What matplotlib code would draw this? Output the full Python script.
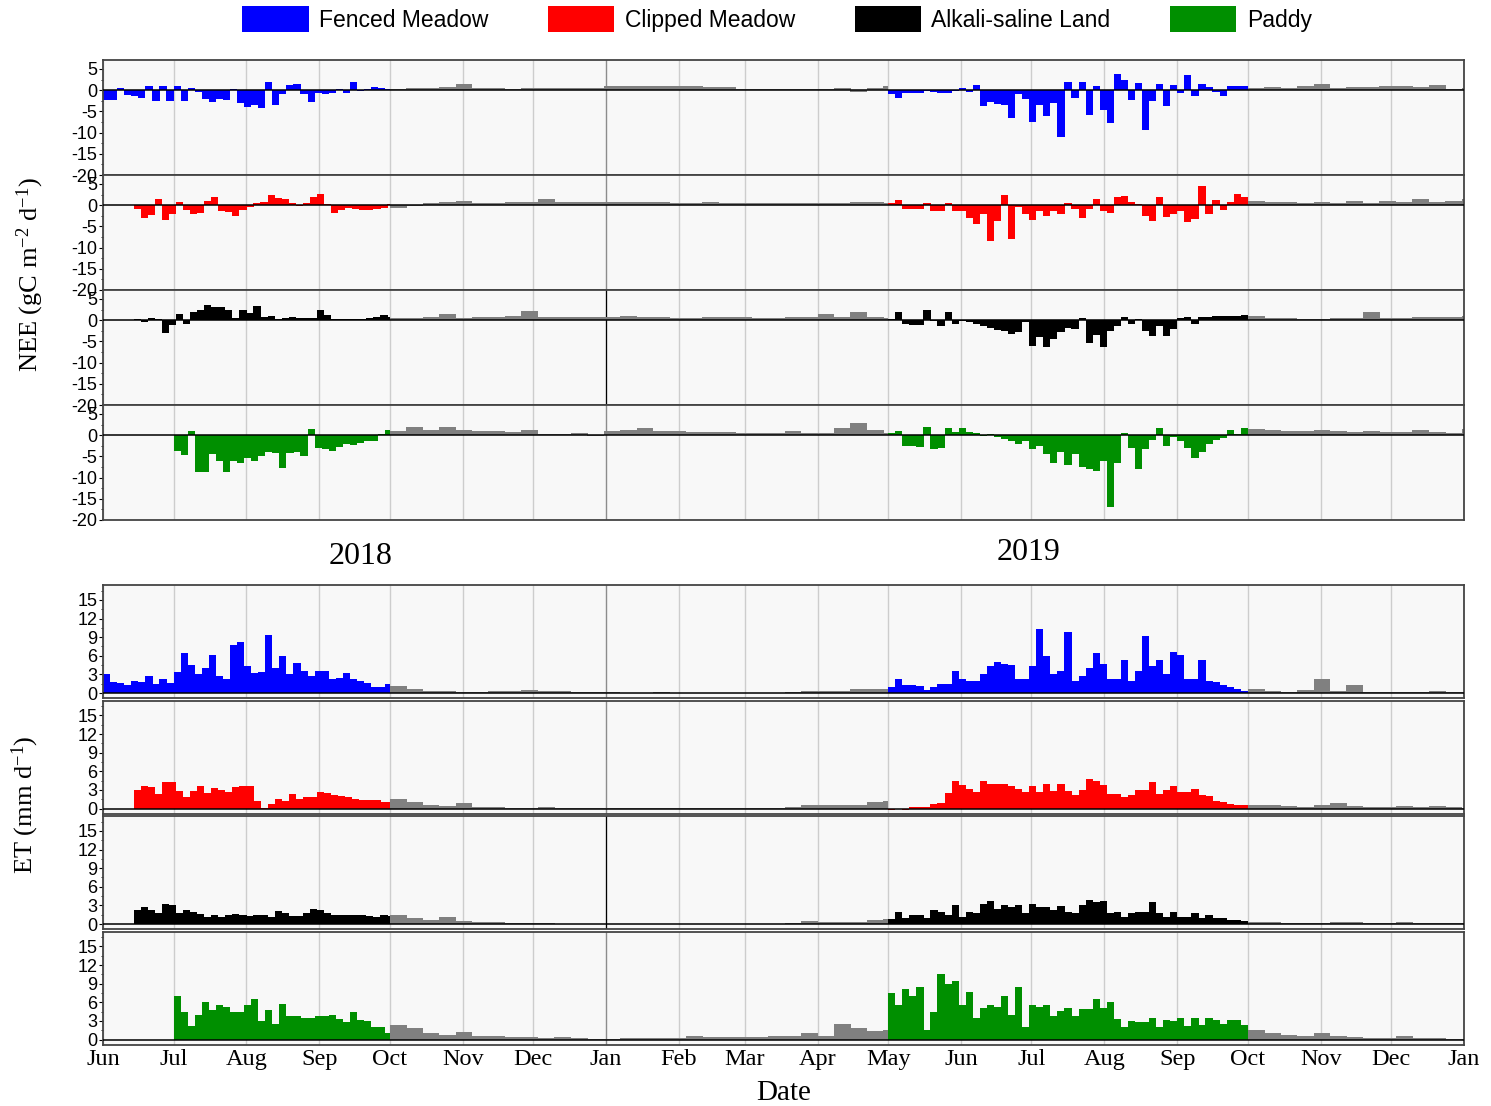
import numpy as np
import matplotlib
matplotlib.use("Agg")
import matplotlib.pyplot as plt
import matplotlib.dates as mdates
from matplotlib.patches import Patch

SERIF = "Liberation Serif"
SANS = "Liberation Sans"
plt.rcParams["mathtext.fontset"] = "custom"
plt.rcParams["mathtext.rm"] = SERIF
plt.rcParams["mathtext.it"] = SERIF + ":italic"
plt.rcParams["axes.unicode_minus"] = False

sites = ["Fenced Meadow", "Clipped Meadow", "Alkali-saline Land", "Paddy"]
colors = ["#0000ff", "#ff0000", "#000000", "#008f00"]
gap_color = "#808080"

# growing-season start in 2018 for each site
start_2018 = ["2018-06-01", "2018-06-14", "2018-06-14", "2018-07-01"]
end_2018 = "2018-10-01"
start_2019 = "2019-05-01"
end_2019 = "2019-10-01"
axis_end = "2020-01-01"

# measured periods are stored as 3-day values, gap-filled periods as weekly values
STEP_SEASON = 3
STEP_GAP = 7

# ---- NEE (gC m-2 d-1) ----
nee_fenced_2018 = [-2.4, -2.3, 0.5, -1.2, -1.4, -1.8, 1.0, -2.6, 1.0, -2.6, 1.0, -2.6, 0.6, -0.5,
                   -2.0, -2.9, -2.0, -2.3, 0.3, -3.0, -4.0, -3.4, -4.2, 2.0, -3.6, -1.0, 1.2, 1.5,
                   -1.0, -2.8, -0.6, -1.0, -0.6, 0.3, -0.7, 1.8, -0.2, 0.3, 0.7, 0.5, 0.3]
nee_fenced_gap1 = [0.3, 0.4, 0.5, 0.8, 1.4, 0.5, 0.4, 0.3, 0.4, 0.6, 0.4, 0.4, 0.5, 0.9, 0.9, 1.0,
                   0.9, 0.9, 0.9, 0.8, 0.8, 0.2, 0.2, 0.3, 0.2, 0.3, 0.3, 0.5, -0.4, 0.4, 1.0]
nee_fenced_2019 = [-1.0, -1.8, -0.6, -0.6, -0.6, -0.2, -0.5, -0.7, -0.7, -0.3, 0.5, -0.5, 1.2,
                   -3.8, -2.9, -3.2, -3.5, -6.6, -1.0, -2.2, -7.4, -3.4, -6.2, -3.0, -11.1, 2.0,
                   -1.8, 2.0, -5.8, 1.0, -4.6, -7.8, 3.7, 2.5, -2.3, 1.6, -9.5, -2.6, 1.5, -3.8,
                   1.1, -0.6, 3.5, -1.3, 1.5, 0.8, -0.4, -1.5, 0.9, 1.0, 0.9]
nee_fenced_gap2 = [0.6, 0.8, 0.5, 0.9, 1.5, 0.6, 0.8, 0.7, 0.9, 1.0, 0.8, 1.3, 0.2, 0.5]

nee_clipped_2018 = [-0.8, -3.0, -2.3, 1.5, -3.5, -2.2, 0.8, -1.2, -2.0, -1.8, 1.0, 2.0, -1.3,
                    -1.7, -2.5, -1.2, -0.5, 0.5, 0.7, 2.3, 1.6, 1.4, 0.5, -0.2, 0.5, 2.0, 2.6,
                    0.2, -1.8, -1.2, -0.7, -0.9, -1.2, -1.2, -1.0, -0.6, 0.2]
nee_clipped_gap1 = [-0.7, -0.3, 0.4, 0.8, 1.0, 0.6, 0.6, 0.7, 0.8, 1.4, 0.8, 0.8, 0.7, 0.8, 0.8,
                    0.8, 0.7, 0.6, 0.6, 0.7, 0.6, 0.5, 0.5, 0.5, 0.4, 0.5, 0.6, 0.6, 0.7, 0.8, 0.6]
nee_clipped_2019 = [0.5, 1.2, -0.8, -0.8, -0.8, 0.6, -1.3, -1.3, 0.4, -1.5, -1.4, -3.0, -4.5,
                    -2.0, -8.4, -3.8, 2.5, -8.0, -0.5, -2.2, -3.5, -1.5, -2.5, -1.3, -2.0, 0.5,
                    -1.0, -3.0, -1.0, 1.5, -1.5, -1.8, 2.0, 2.2, 0.8, 0.3, -2.5, -3.7, 2.0, -2.8,
                    -2.0, -1.5, -4.0, -3.2, 4.5, -2.2, 1.3, -1.2, 0.8, 2.7, 1.8]
nee_clipped_gap2 = [1.0, 0.8, 0.7, 0.6, 0.8, 0.6, 0.9, 0.6, 1.0, 0.7, 1.5, 0.8, 0.9, 1.4]

nee_alkali_2018 = [0.3, -0.4, 0.5, 0.3, -3.0, -1.2, 1.5, -1.0, 2.0, 2.5, 3.5, 3.0, 3.2, 2.5,
                   0.6, 2.5, 1.6, 3.3, 0.8, 1.0, 0.3, 0.6, 0.8, 0.5, 0.5, 0.4, 2.5, 1.2, 0.3,
                   0.3, 0.3, 0.3, 0.3, 0.5, 0.7, 1.3, 0.8]
nee_alkali_gap1 = [0.5, 0.6, 0.8, 1.5, 0.5, 0.7, 0.8, 0.9, 2.2, 0.8, 0.7, 0.7, 0.8, 0.8, 0.9,
                   0.8, 0.7, 0.6, 0.6, 0.7, 0.7, 0.7, 0.6, 0.6, 0.7, 0.8, 1.4, 0.7, 2.0, 0.8, 0.6]
nee_alkali_2019 = [0.3, 1.8, -1.0, -1.2, -1.2, 2.3, -0.3, -1.5, 1.8, -0.8, -0.3, -0.5, -0.9,
                   -1.3, -1.8, -2.3, -2.5, -3.3, -2.8, -0.5, -6.0, -4.0, -6.3, -4.5, -2.8, -1.8,
                   -2.2, 0.5, -5.5, -3.5, -6.3, -2.5, -1.5, 0.7, -1.0, 0.3, -2.5, -3.8, -1.5,
                   -3.8, -2.2, 0.6, 0.8, -1.0, 0.7, 0.8, 1.0, 0.9, 0.9, 1.0, 1.2]
nee_alkali_gap2 = [0.9, 0.6, 0.4, 0.2, 0.2, 0.4, 0.5, 2.0, 0.5, 0.6, 0.7, 0.8, 0.8, 1.0]

nee_paddy_2018 = [-3.8, -4.6, 1.0, -8.8, -8.8, -4.5, -6.0, -8.6, -6.0, -6.5, -5.5, -6.2, -5.0,
                  -4.0, -4.3, -7.8, -4.2, -4.0, -5.0, 1.5, -3.0, -3.3, -3.8, -2.8, -2.0, -2.3,
                  -1.8, -1.5, -1.3, 0.3, 1.3]
nee_paddy_gap1 = [1.0, 2.0, 1.2, 1.8, 1.2, 1.0, 0.9, 0.8, 1.3, 0.3, 0.2, 0.4, -0.2, 1.0, 1.3,
                  1.6, 1.0, 0.9, 0.8, 0.7, 0.8, 0.6, 0.6, 0.5, 1.0, 0.4, 0.6, 1.6, 2.8, 1.2, 0.6]
nee_paddy_2019 = [0.5, 1.0, -2.5, -2.5, -2.7, 2.0, -3.2, -3.0, 1.6, 0.8, 1.6, 0.8, 0.4, -0.3,
                  0.3, -0.5, -1.0, -1.5, -2.0, -1.5, -3.3, -2.5, -4.5, -6.5, -4.0, -7.0, -4.5,
                  -7.5, -8.0, -8.5, -6.0, -16.9, -6.5, 0.5, -3.0, -8.0, -3.3, -1.2, 1.7, -2.5,
                  -0.5, -1.5, -3.0, -5.5, -4.0, -2.0, -1.2, -0.6, 1.2, 0.3, 1.7]
nee_paddy_gap2 = [1.5, 1.2, 1.0, 1.0, 1.2, 0.9, 0.8, 0.9, 0.8, 0.7, 1.2, 0.8, 0.5, 1.5]

# ---- ET (mm d-1) ----
et_fenced_2018 = [3.0, 1.8, 1.6, 1.3, 2.0, 1.7, 2.8, 1.5, 2.3, 1.6, 3.4, 6.4, 4.5, 3.0, 4.0,
                  6.2, 2.8, 2.2, 7.8, 8.2, 4.3, 3.3, 3.4, 9.4, 4.0, 6.0, 3.0, 4.8, 3.5, 2.7, 3.6,
                  3.6, 2.2, 2.5, 3.2, 2.2, 1.9, 1.6, 1.0, 0.9, 1.4]
et_fenced_gap1 = [1.2, 0.7, 0.4, 0.3, 0.2, 0.2, 0.3, 0.3, 0.5, 0.3, 0.3, 0.2, 0.2, 0.1, 0.05,
                  0.05, 0.1, 0.05, 0.05, 0.05, 0.05, 0.05, 0.05, 0.05, 0.1, 0.4, 0.4, 0.4, 0.6,
                  0.7, 0.6]
et_fenced_2019 = [0.9, 2.2, 1.3, 1.3, 1.2, 0.5, 0.9, 1.5, 1.4, 3.6, 2.2, 1.9, 2.0, 3.1, 4.3, 5.0,
                  4.7, 4.5, 2.3, 2.3, 4.3, 10.3, 6.0, 3.0, 3.5, 9.8, 2.0, 2.8, 4.0, 6.5, 4.6, 2.3,
                  2.3, 5.3, 2.0, 3.6, 9.2, 4.4, 5.3, 3.1, 6.6, 6.2, 2.2, 2.2, 5.3, 2.0, 1.7, 1.3,
                  0.9, 0.6, 0.4]
et_fenced_gap2 = [0.6, 0.3, 0.2, 0.5, 2.3, 0.3, 1.3, 0.2, 0.1, 0.2, 0.2, 0.3, 0.1, 0.2]

et_clipped_2018 = [3.0, 3.7, 3.4, 2.4, 4.2, 4.2, 2.8, 1.8, 2.8, 3.7, 2.5, 3.3, 3.0, 2.7, 3.4,
                   3.7, 3.6, 1.2, 0.1, 0.8, 1.5, 1.2, 2.4, 1.6, 1.8, 1.8, 2.6, 2.5, 2.2, 2.0,
                   1.9, 1.6, 1.3, 1.3, 1.4, 1.1, 1.0]
et_clipped_gap1 = [1.6, 1.0, 0.6, 0.4, 0.9, 0.3, 0.2, 0.1, 0.1, 0.2, 0.05, 0.05, 0.05, 0.05,
                   0.05, 0.05, 0.05, 0.05, 0.05, 0.05, 0.05, 0.05, 0.05, 0.1, 0.2, 0.6, 0.5,
                   0.5, 0.6, 1.1, 1.2]
et_clipped_2019 = [-0.3, -0.1, -0.2, 0.3, 0.3, 0.3, 0.7, 0.9, 2.5, 4.4, 3.8, 3.2, 2.7, 4.4, 4.0,
                   4.0, 4.0, 3.6, 3.1, 2.6, 3.6, 2.6, 4.0, 2.8, 3.9, 2.8, 2.1, 3.0, 4.8, 4.5,
                   3.8, 2.3, 2.3, 1.8, 2.2, 3.0, 3.0, 4.2, 2.4, 3.0, 3.7, 2.6, 2.6, 3.1, 2.2,
                   2.0, 1.2, 1.0, 0.8, 0.6, 0.5]
et_clipped_gap2 = [0.6, 0.5, 0.4, 0.3, 0.5, 0.9, 0.4, 0.3, 0.3, 0.4, 0.2, 0.4, 0.2, 0.1]

et_alkali_2018 = [2.2, 2.7, 2.2, 1.7, 3.3, 3.1, 1.7, 2.3, 1.9, 1.6, 1.2, 1.4, 1.2, 1.4, 1.6,
                  1.4, 1.3, 1.4, 1.5, 1.1, 2.1, 1.7, 1.3, 1.3, 1.8, 2.4, 2.2, 1.8, 1.5, 1.5,
                  1.5, 1.4, 1.4, 1.3, 1.2, 1.4, 1.3]
et_alkali_gap1 = [1.5, 1.0, 0.7, 1.2, 0.5, 0.4, 0.3, 0.2, 0.15, 0.2, 0.05, 0.05, 0.05, 0.05,
                  0.05, 0.05, 0.05, 0.05, 0.05, 0.05, 0.05, 0.05, 0.05, 0.05, 0.1, 0.5, 0.3,
                  0.3, 0.4, 0.6, 0.8]
et_alkali_2019 = [0.8, 2.0, 1.0, 1.4, 1.5, 0.9, 2.2, 1.9, 1.5, 3.1, 1.2, 1.9, 1.8, 3.2, 3.7, 2.5,
                  3.0, 2.8, 3.1, 1.8, 3.3, 2.8, 2.7, 2.2, 2.9, 2.0, 1.7, 3.0, 3.8, 3.6, 3.7, 1.7,
                  1.9, 1.1, 1.7, 1.9, 2.0, 3.5, 1.8, 1.2, 2.0, 1.2, 1.2, 1.7, 0.9, 1.5, 1.0, 0.9,
                  0.6, 0.6, 0.5]
et_alkali_gap2 = [0.4, 0.3, 0.2, 0.2, 0.2, 0.3, 0.3, 0.2, 0.2, 0.4, 0.2, 0.1, 0.1, 0.1]

et_paddy_2018 = [7.0, 4.5, 2.2, 4.0, 6.0, 4.8, 5.5, 5.2, 4.4, 4.5, 5.5, 6.5, 3.0, 4.8, 2.5, 5.8,
                 3.8, 3.8, 3.5, 3.5, 3.8, 3.8, 4.0, 3.3, 2.8, 4.5, 3.2, 3.0, 2.0, 2.0, 1.1]
et_paddy_gap1 = [2.3, 1.8, 1.0, 0.7, 1.2, 0.6, 0.5, 0.4, 0.4, 0.3, 0.4, 0.2, 0.1, 0.1, 0.3, 0.3,
                 0.2, 0.3, 0.5, 0.4, 0.4, 0.4, 0.4, 0.5, 0.6, 1.0, 0.6, 2.5, 1.8, 1.4, 1.6]
et_paddy_2019 = [7.5, 5.6, 8.2, 7.0, 8.5, 1.5, 4.5, 10.5, 9.0, 9.4, 5.5, 7.6, 3.5, 5.0, 5.5, 5.3,
                 7.0, 4.0, 8.5, 2.0, 5.5, 5.2, 5.5, 3.8, 4.6, 5.0, 3.8, 4.9, 4.9, 6.5, 5.0, 6.0,
                 3.3, 2.0, 3.0, 2.8, 2.9, 3.4, 2.0, 3.2, 3.0, 3.5, 2.2, 3.5, 2.3, 3.5, 3.2, 2.5,
                 3.1, 3.2, 2.4]
et_paddy_gap2 = [1.5, 1.1, 0.8, 0.6, 1.0, 0.5, 0.4, 0.3, 0.3, 0.5, 0.3, 0.2, 0.1, 0.1]

nee_series = [
    (nee_fenced_2018, nee_fenced_gap1, nee_fenced_2019, nee_fenced_gap2),
    (nee_clipped_2018, nee_clipped_gap1, nee_clipped_2019, nee_clipped_gap2),
    (nee_alkali_2018, nee_alkali_gap1, nee_alkali_2019, nee_alkali_gap2),
    (nee_paddy_2018, nee_paddy_gap1, nee_paddy_2019, nee_paddy_gap2),
]
et_series = [
    (et_fenced_2018, et_fenced_gap1, et_fenced_2019, et_fenced_gap2),
    (et_clipped_2018, et_clipped_gap1, et_clipped_2019, et_clipped_gap2),
    (et_alkali_2018, et_alkali_gap1, et_alkali_2019, et_alkali_gap2),
    (et_paddy_2018, et_paddy_gap1, et_paddy_2019, et_paddy_gap2),
]


def draw_run(ax, start, end, step, values, color):
    t0 = np.datetime64(start)
    t1 = np.datetime64(end)
    lefts = t0 + np.arange(len(values)) * np.timedelta64(step, "D")
    rights = np.minimum(lefts + np.timedelta64(step, "D"), t1)
    x = mdates.date2num(lefts)
    w = mdates.date2num(rights) - x
    ax.bar(x, values, width=w * 1.02, align="edge", color=color, linewidth=0, zorder=2)


def draw_site(ax, i, runs):
    s18, gap1, s19, gap2 = runs
    draw_run(ax, start_2018[i], end_2018, STEP_SEASON, s18, colors[i])
    draw_run(ax, end_2018, start_2019, STEP_GAP, gap1, gap_color)
    draw_run(ax, start_2019, end_2019, STEP_SEASON, s19, colors[i])
    draw_run(ax, end_2019, axis_end, STEP_GAP, gap2, gap_color)


def style_axis(ax, i, bottom):
    ax.set_facecolor("#f8f8f8")
    ax.set_xlim(mdates.date2num(np.datetime64("2018-06-01")),
                mdates.date2num(np.datetime64(axis_end)))
    ax.xaxis.set_major_locator(mdates.MonthLocator())
    ax.grid(axis="x", color="#cdcdcd", linewidth=1.0, zorder=0)
    ax.set_axisbelow(True)
    jan_color = "black" if i == 2 else "#8c8c8c"
    ax.axvline(mdates.date2num(np.datetime64("2019-01-01")), color=jan_color,
               linewidth=0.9, zorder=1)
    ax.axhline(0, color="black", linewidth=1.1, zorder=3)
    for sp in ax.spines.values():
        sp.set_color("#444444")
        sp.set_linewidth(1.3)
    ax.tick_params(axis="y", labelsize=13, length=3, width=0.8, pad=1, direction="out")
    ax.tick_params(axis="y", which="minor", length=1.8, width=0.6)
    for lab in ax.get_yticklabels():
        lab.set_fontfamily(SANS)
    if bottom:
        ax.xaxis.set_major_formatter(mdates.DateFormatter("%b"))
        ax.tick_params(axis="x", labelsize=17.5, length=0, pad=3)
        for lab in ax.get_xticklabels():
            lab.set_fontfamily(SERIF)
    else:
        ax.tick_params(axis="x", length=0, labelbottom=False)


W, H = 1491, 1106
fig = plt.figure(figsize=(W / 100, H / 100), dpi=100)
left = 103 / W
width = 1361 / W

# NEE block
for i in range(4):
    top = 60 + 115 * i
    ax = fig.add_axes([left, 1 - (top + 115) / H, width, 115 / H])
    draw_site(ax, i, nee_series[i])
    ax.set_ylim(-20, 7.1)
    ax.set_yticks([5, 0, -5, -10, -15, -20])
    ax.set_yticks(np.arange(-20, 7, 2.5), minor=True)
    style_axis(ax, i, False)

# ET block
for i in range(4):
    top = 585 + 115.5 * i
    ax = fig.add_axes([left, 1 - (top + 113) / H, width, 113 / H])
    draw_site(ax, i, et_series[i])
    ax.set_ylim(-0.8, 17.4)
    ax.set_yticks([0, 3, 6, 9, 12, 15])
    ax.set_yticks(np.arange(0, 17, 1.5), minor=True)
    style_axis(ax, i, i == 3)

fig.text(30 / W, 1 - 275 / H, "NEE (gC m$^{-2}$ d$^{-1}$)", rotation=90, ha="center",
         va="center", fontsize=19, fontfamily=SERIF)
fig.text(25 / W, 1 - 805 / H, "ET (mm d$^{-1}$)", rotation=90, ha="center",
         va="center", fontsize=19, fontfamily=SERIF)
fig.text(361 / W, 1 - 556 / H, "2018", ha="center", va="center", fontsize=23, fontfamily=SERIF)
fig.text(1029 / W, 1 - 553 / H, "2019", ha="center", va="center", fontsize=23, fontfamily=SERIF)
fig.text(784 / W, 1 - 1093 / H, "Date", ha="center", va="center", fontsize=21, fontfamily=SERIF)

handles = [Patch(facecolor=c, edgecolor="none", label=s) for s, c in zip(sites, colors)]
fig.legend(handles=handles, loc="center", bbox_to_anchor=(777 / W, 1 - 19 / H), ncol=4,
           frameon=False, handlelength=2.9, handleheight=1.4, columnspacing=2.6,
           handletextpad=0.45, prop={"family": SANS, "size": 16.5})

fig.savefig("out.png", dpi=100)
